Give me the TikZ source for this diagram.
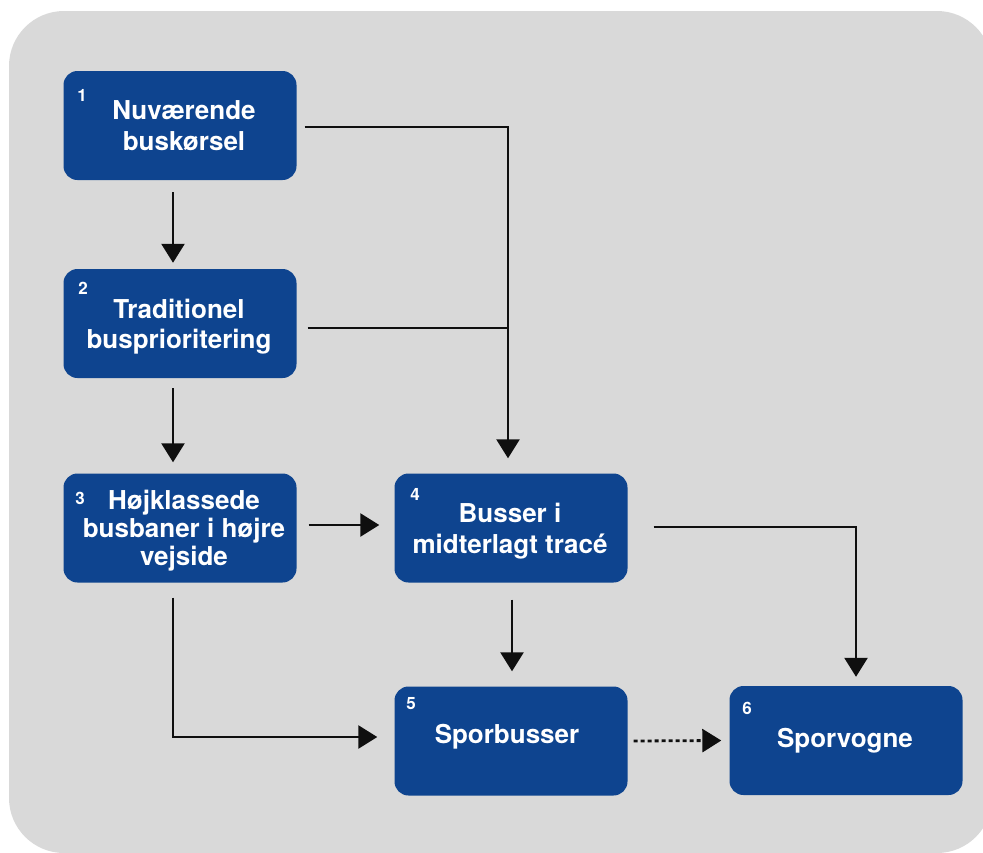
\documentclass[tikz,border=0pt]{standalone}
\usepackage{fontspec}
\setmainfont{TeX Gyre Heros}
\usetikzlibrary{arrows.meta}
\definecolor{boxblue}{RGB}{14,68,143}
\definecolor{bggray}{RGB}{217,217,217}
\definecolor{linecol}{RGB}{15,15,15}
\begin{document}
\begin{tikzpicture}[x=1pt,y=-1pt,
  box/.style={draw=none, fill=boxblue, rounded corners=14pt, minimum width=233pt, minimum height=109pt, inner sep=0pt},
  lbl/.style={text=white, font=\bfseries\fontsize{26}{31}\selectfont, align=center, inner sep=0pt},
  num/.style={text=white, font=\bfseries\fontsize{17}{17}\selectfont, inner sep=0pt},
  conn/.style={draw=linecol, line width=2.6pt},
  arr/.style={conn, -{Triangle[width=23pt,length=19pt]}},
  dotarr/.style={draw=linecol, line width=2.8pt, dash pattern=on 4pt off 3pt, -{Triangle[width=23pt,length=19pt]}}
]
\useasboundingbox (0,0) rectangle (983,852);
\clip (0,0) rectangle (983,852);
\fill[bggray, rounded corners=55pt] (9,11) rectangle (992,853);

% boxes
\node[box] (b1) at (180,125.5) {};
\node[box] (b2) at (180,323.5) {};
\node[box] (b3) at (180,528) {};
\node[box] (b4) at (511,528) {};
\node[box] (b5) at (511,741) {};
\node[box] (b6) at (846,740.5) {};

% texts
\node[lbl] (t1) at (184,126) {Nuværende\\buskørsel};
\node[lbl, font=\bfseries\fontsize{26}{30}\selectfont] (t2) at (179,327) {Traditionel\\busprioritering};
\node[lbl, font=\bfseries\fontsize{26}{28}\selectfont] (t3) at (184,531) {Højklassede\\busbaner i højre\\vejside};
\node[lbl] (t4) at (510,531) {Busser i\\midterlagt tracé};
\node[lbl] (t5) at (507,736.5) {Sporbusser};
\node[lbl] (t6) at (845,741) {Sporvogne};

% numbers
\node[num] (n1) at (82,95.5) {1};
\node[num] (n2) at (83,288) {2};
\node[num] (n3) at (80,498) {3};
\node[num] (n4) at (415,494) {4};
\node[num] (n5) at (411,704) {5};
\node[num] (n6) at (747,708) {6};

% connectors
\draw[arr] ([xshift=-7pt,yshift=-12pt]b1.south) -- ([xshift=-7pt,yshift=6pt]b2.north);
\draw[arr] ([xshift=-7pt,yshift=-10pt]b2.south) -- ([xshift=-7pt,yshift=11pt]b3.north);
\draw[arr] ([xshift=12pt,yshift=3pt]b3.east) -- ([xshift=-15pt,yshift=3pt]b4.west);
\draw[arr] ([xshift=-7pt,yshift=-15pt]b3.south) |- ([xshift=-17pt,yshift=4pt]b5.west);
\draw[arr] ([xshift=1pt,yshift=-17pt]b4.south) -- ([xshift=1pt,yshift=15pt]b5.north);
\draw[dotarr] ([xshift=6pt]b5.east) -- ([xshift=-8pt]b6.west);
\draw[arr] ([xshift=26pt,yshift=1pt]b4.east) -| ([xshift=10pt,yshift=9pt]b6.north);
\draw[arr] ([xshift=8pt,yshift=-1.5pt]b1.east) -| ([xshift=-3pt,yshift=15pt]b4.north);
\coordinate (j2) at (508,328);
\draw[conn] ([xshift=11pt,yshift=-4.5pt]b2.east) -- (j2);
\end{tikzpicture}
\end{document}
